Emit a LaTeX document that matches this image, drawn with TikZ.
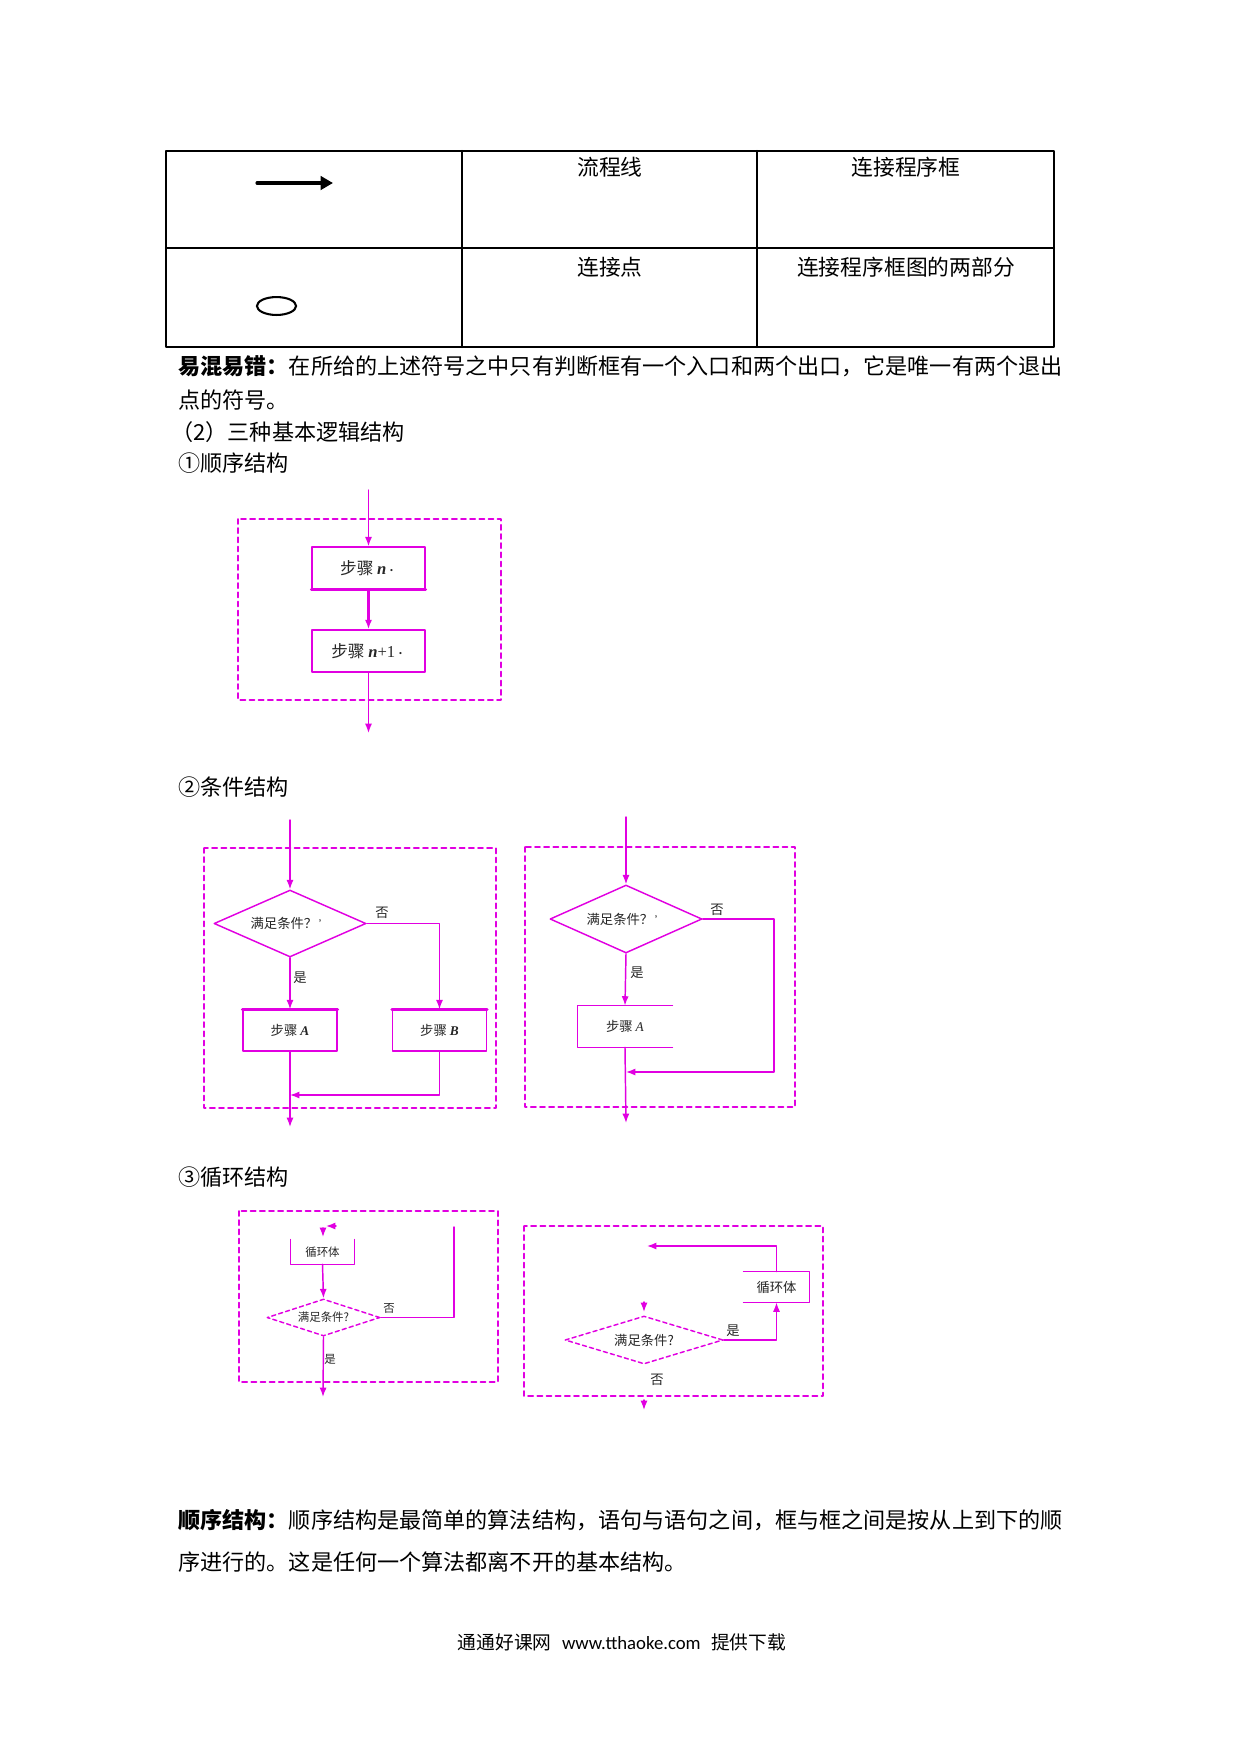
\documentclass[tikz,border=0pt]{standalone}
\usepackage{fontspec}
\setmainfont{Noto Sans CJK SC}
\newfontfamily\tms{Liberation Serif}
\newfontfamily\cali{Carlito}
\usetikzlibrary{shapes.geometric,arrows.meta}
\definecolor{hong}{RGB}{225,0,225}
\tikzset{
	kuang/.style={draw=hong, line width=0.7pt, inner sep=0pt, text=black!85},
	pan/.style={diamond, draw=hong, line width=0.7pt, aspect=2.3, inner sep=0pt, text=black!85},
	liu/.style={draw=hong, line width=0.7pt, -{Latex[length=4.5pt,width=3.4pt]}},
	xu/.style={draw=hong, line width=0.9pt, dash pattern=on 2.4pt off 2pt},
	chu/.style={anchor=west, inner sep=0pt},
	biao/.style={inner sep=0pt, text=black!85}
}
\begin{document}
\begin{tikzpicture}[x=0.48pt, y=-0.48pt, line join=round, line cap=round]
	%Khung trang.
	\useasboundingbox (0,0) rectangle (1240,1754);
	%Cỡ chữ.
	\def\wuhao{\fontsize{10.61pt}{13pt}\selectfont}
	\def\bang{\fontsize{10.45pt}{12pt}\selectfont}
	\def\tam{\fontsize{8pt}{9pt}\selectfont}
	\def\sau{\fontsize{6.4pt}{7pt}\selectfont}
	\def\nam{\fontsize{5.5pt}{6pt}\selectfont}
	%Bảng ký hiệu.
	\draw[line width=1pt] (166,151) rectangle (1054,347);
	\draw[line width=1pt] (166,248)--(1054,248) (462,151)--(462,347) (757,151)--(757,347);
	\draw[line width=1.5pt, -{Triangle[length=6pt,width=6.5pt]}] (257,183)--(333,183);
	\draw[line width=1pt] (276.5,306) ellipse (9.4pt and 4.3pt);
	\node[font=\bang] (lt) at (610,167) {流程线};
	\node[font=\bang] (ltk) at (906,167) {连接程序框};
	\node[font=\bang] (ld) at (610,267) {连接点};
	\node[font=\bang] (ldk) at (906,267) {连接程序框图的两部分};
	%Các dòng chữ.
	\node[chu, font=\wuhao] (t1) at (178,366) {\textbf{易混易错：}在所给的上述符号之中只有判断框有一个入口和两个出口，它是唯一有两个退出};
	\node[chu, font=\wuhao] (t2) at (178,400) {点的符号。};
	\node[chu, font=\wuhao] (t3) at (171,432) {（2）三种基本逻辑结构};
	\node[chu, font=\wuhao] (t4) at (178,463) {①顺序结构};
	\node[chu, font=\wuhao] (t5) at (178,787) {②条件结构};
	\node[chu, font=\wuhao] (t6) at (178,1177) {③循环结构};
	\node[chu, font=\wuhao] (t7) at (178,1520) {\textbf{顺序结构：}顺序结构是最简单的算法结构，语句与语句之间，框与框之间是按从上到下的顺};
	\node[chu, font=\wuhao] (t8) at (178,1562) {序进行的。这是任何一个算法都离不开的基本结构。};
	\node[inner sep=0pt, font=\fontsize{9pt}{11pt}\selectfont] (foot) at (622,1642) {通通好课网\hspace{5pt}{\cali www.tthaoke.com}\hspace{5pt}提供下载};
	%Cấu trúc tuần tự.
	\coordinate (s0) at (368.5,490);
	\coordinate (s3) at (368.5,733);
	\node[kuang, font=\tam, minimum width=113*0.48pt, minimum height=42*0.48pt] (s1) at (368.5,568) {步骤 {\tms\textbf{\textit{n}}}{\tiny •}};
	\node[kuang, font=\tam, minimum width=113*0.48pt, minimum height=42*0.48pt] (s2) at (368.5,651) {步骤 {\tms\textbf{\textit{n}}+1}{\tiny •}};
	\draw[hong, line width=1.3pt] (s1.south west)--(s1.south east);
	\draw[liu] (s0)--(s1);
	\draw[liu, line width=1.3pt] (s1)--(s2);
	\draw[liu] (s2)--(s3);
	\draw[xu] (238,519) rectangle (501,700);
	%Cấu trúc điều kiện 1.
	\coordinate (a0) at (290,820);
	\coordinate (aM) at (290,1095);
	\coordinate (aE) at (290,1127);
	\node[pan, font=\sau, minimum width=152*0.48pt, minimum height=67*0.48pt] (ad) at (290,923.5) {满足条件？{\tiny\,'}};
	\node[kuang, font=\sau, minimum width=94*0.48pt, minimum height=41*0.48pt] (aA) at (290,1030.5) {步骤 {\tms\textbf{\textit{A}}}};
	\node[kuang, font=\sau, minimum width=94*0.48pt, minimum height=41*0.48pt] (aB) at (439.5,1030.5) {步骤 {\tms\textbf{\textit{B}}}};
	\draw[hong, line width=1.3pt] (aA.north west)--(aA.north east) (aB.north west)--(aB.north east);
	\draw[liu] (a0)--(ad.north);
	\draw[liu] (ad.east) -| (aB.north);
	\draw[liu] (ad.south)--(aA.north);
	\draw[liu] (aB.south) |- (aM);
	\draw[liu] (aA.south)--(aE);
	\node[biao, font=\sau] (aN) at (382,913) {否};
	\node[biao, font=\sau] (aY) at (300,978) {是};
	\draw[xu] (204,848) rectangle (496,1108);
	%Cấu trúc điều kiện 2.
	\coordinate (b0) at (626,817);
	\coordinate (bR) at (774,1072);
	\coordinate (bM) at (626,1072);
	\coordinate (bE) at (626,1123);
	\node[pan, font=\sau, minimum width=152*0.48pt, minimum height=68*0.48pt] (bd) at (626,919) {满足条件？{\tiny\,'}};
	\node[biao, font=\sau, minimum width=94*0.48pt, minimum height=41*0.48pt] (bA) at (625,1026.5) {步骤 {\tms\textit{A}}};
	\draw[hong, line width=0.7pt] (bA.north east)--(bA.north west)--(bA.south west)--(bA.south east);
	\draw[liu] (b0)--(bd.north);
	\draw[liu] (bd.south)--(bA.north);
	\draw[liu] (bd.east) -| (bR)--(bM);
	\draw[liu] (bA.south)--(bE);
	\node[biao, font=\sau] (bN) at (717,910) {否};
	\node[biao, font=\sau] (bY) at (637,973) {是};
	\draw[xu] (525,847) rectangle (795,1107);
	%Cấu trúc vòng lặp 1.
	\coordinate (cR) at (454,1227);
	\coordinate (cE) at (323,1397);
	\coordinate (c1) at (336,1226);
	\coordinate (c2) at (326,1226);
	\coordinate (c3) at (323,1228);
	\coordinate (c4) at (323,1237);
	\node[biao, font=\nam, minimum width=63*0.48pt, minimum height=24*0.48pt] (cB) at (322.5,1252) {循环体};
	\draw[hong, line width=0.7pt] (cB.north west)--(cB.south west)--(cB.south east)--(cB.north east);
	\node[pan, dash pattern=on 2pt off 1.5pt, font=\nam, minimum width=113*0.48pt, minimum height=37*0.48pt] (cd) at (323.5,1317.5) {满足条件?};
	\draw[liu] (cB.south)--(cd.north);
	\draw[hong, line width=0.7pt] (cd.east) -| (cR);
	\draw[liu] (cd.south)--(cE);
	\draw[liu] (c1)--(c2);
	\draw[liu] (c3)--(c4);
	\node[biao, font=\nam] (cN) at (389,1308) {否};
	\node[biao, font=\nam] (cY) at (330,1359) {是};
	\draw[xu] (239,1211) rectangle (498,1382);
	%Cấu trúc vòng lặp 2.
	\coordinate (dT) at (647,1246);
	\coordinate (d1) at (644,1302);
	\coordinate (d2) at (644,1312);
	\coordinate (d3) at (644,1400);
	\coordinate (d4) at (644,1410);
	\node[biao, font=\sau, minimum width=65*0.48pt, minimum height=30*0.48pt] (dB) at (776.5,1287) {循环体};
	\draw[hong, line width=0.7pt] (dB.north west)--(dB.north east)--(dB.south east)--(dB.south west);
	\node[pan, dash pattern=on 2pt off 1.5pt, font=\sau, minimum width=158*0.48pt, minimum height=48*0.48pt] (dd) at (644,1340) {满足条件?};
	\draw[liu] (dB.north) |- (dT);
	\draw[liu] (dd.east) -| (dB.south);
	\draw[liu] (d1)--(d2);
	\draw[liu] (d3)--(d4);
	\node[biao, font=\sau] (dY) at (733,1331) {是};
	\node[biao, font=\sau] (dN) at (657,1380) {否};
	\draw[xu] (524,1226) rectangle (823,1396);
\end{tikzpicture}
\end{document}
